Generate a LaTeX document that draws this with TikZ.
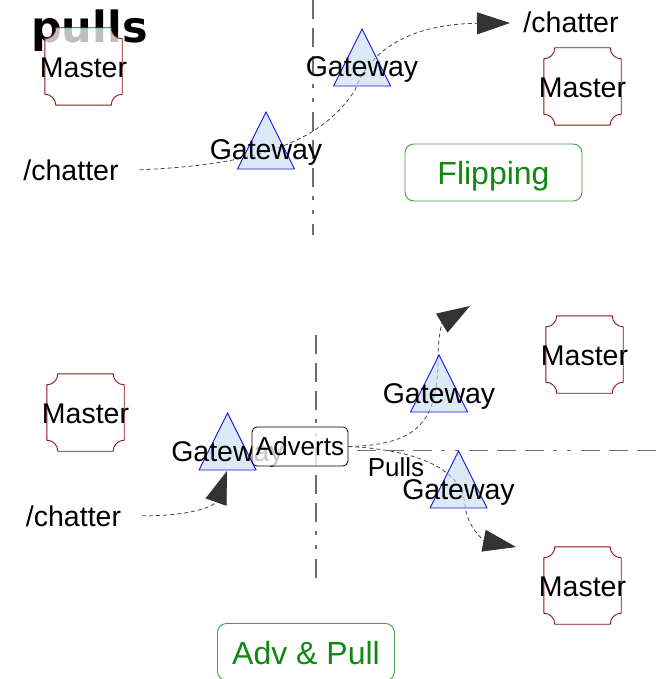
\documentclass[tikz,border=0pt]{standalone}
\usepackage{fontspec}
\setmainfont{Liberation Sans}
\newfontfamily\titlefont{DejaVu Sans}
\usetikzlibrary{arrows.meta,calc}

\definecolor{masterred}{RGB}{139,20,20}
\definecolor{gwblue}{RGB}{20,20,240}
\definecolor{gwfill}{RGB}{195,220,240}
\definecolor{flowgray}{RGB}{70,70,70}
\definecolor{tipgray}{RGB}{51,51,51}
\definecolor{axisgray}{RGB}{110,110,110}
\definecolor{modetext}{RGB}{17,136,17}
\definecolor{modeline}{RGB}{70,160,70}

\pgfdeclarelayer{curves}
\pgfsetlayers{curves,main}

\tikzset{
  txt/.style={inner sep=0pt, anchor=base, font=\fontsize{28.5}{30}\selectfont},
  smalltxt/.style={inner sep=0pt, anchor=base, font=\fontsize{26}{28}\selectfont},
  gwshape/.style={draw=gwblue, fill=gwfill, fill opacity=0.6, line width=0.9pt},
  masterbox/.style={draw=none, inner sep=0pt, minimum size=77pt},
  masterline/.style={draw=masterred, line width=0.9pt, fill=white, fill opacity=0.75},
  flow/.style={draw=flowgray, line width=0.8pt, dash pattern=on 4pt off 3pt,
    -{Triangle[length=33pt,width=22pt,color=tipgray]}},
  axis/.style={draw=axisgray, line width=1.3pt,
    dash pattern=on 19pt off 9pt on 19pt off 9pt on 19pt off 9pt on 4pt off 10pt on 4pt off 10pt},
  modebox/.style={draw=modeline, line width=0.9pt, rounded corners=9pt,
    minimum width=177pt, minimum height=57pt, inner sep=0pt,
    text height=24pt, text depth=0pt, text=modetext,
    font=\fontsize{32}{34}\selectfont},
  advbox/.style={draw=black, line width=0.8pt, rounded corners=5pt,
    fill=white, fill opacity=0.78, text opacity=1,
    minimum width=96pt, minimum height=39pt, inner sep=0pt,
    font=\fontsize{26}{28}\selectfont},
}

% master: name, centre x, top y
\newcommand\mastershape[3]{%
  \node[masterbox] (#1) at (#2,-#3-38.5) {};
  \path[masterline]
    ($(#1.north west)+(11pt,0)$) -- ($(#1.north east)+(-11pt,0)$)
    arc[start angle=180,end angle=270,radius=11pt]
    -- ($(#1.south east)+(0,11pt)$)
    arc[start angle=90,end angle=180,radius=11pt]
    -- ($(#1.south west)+(11pt,0)$)
    arc[start angle=0,end angle=90,radius=11pt]
    -- ($(#1.north west)+(0,-11pt)$)
    arc[start angle=-90,end angle=0,radius=11pt] -- cycle;
  \node[txt] (#1-label) at ($(#1.north)+(0,-50pt)$) {Master};}

% gateway: name, centre x, base y
\newcommand\gatewayshape[3]{%
  \path[gwshape] (#2-28.5,-#3) -- (#2,-#3+57) -- (#2+28.5,-#3) -- cycle;
  \node[txt] (#1) at (#2,-#3+9) {Gateway};}

\begin{document}
\begin{tikzpicture}[x=1pt,y=1pt]
\useasboundingbox (0,0) rectangle (664,-679);

% ---------- flipping ----------
\node[inner sep=0pt, anchor=base west, font=\titlefont\bfseries\fontsize{43}{45}\selectfont]
  (title) at (31,-43) {pulls};

\draw[axis] (313,0) -- (313,-235);

\mastershape{mA}{83.5}{28}
\mastershape{mB}{582.5}{48}

\gatewayshape{gA}{362}{86}
\gatewayshape{gB}{266}{169}

\node[txt] (chatA) at (71,-180) {/chatter};
\node[txt] (chatB) at (571,-33) {/chatter};
\coordinate (tipA) at (510,-23);

\node[modebox] (flip) at (493.5,-172.5) {Flipping};

% ---------- adverts and pulls ----------
\draw[axis] (316,-335) -- (316,-580);
\draw[axis] (357,-450.5) -- (664,-450.5);

\mastershape{mC}{85.5}{374}
\mastershape{mD}{584.5}{316}
\mastershape{mE}{582.5}{547}

\gatewayshape{gC}{227.5}{470}
\gatewayshape{gD}{439}{412}
\gatewayshape{gE}{458.5}{508}

\node[advbox] (adv) at (300,-446.5) {Adverts};
\node[smalltxt] (pulls) at (396,-476) {Pulls};

\node[txt] (chatC) at (73.5,-526) {/chatter};
\coordinate (tipC) at (227,-471);
\coordinate (tipD) at (470,-306);
\coordinate (tipE) at (516,-547);

\node[modebox] (advpull) at (306,-652) {Adv \& Pull};

% ---------- message paths ----------
\begin{pgfonlayer}{curves}
  \draw[flow] ($(chatA.east)+(21pt,0)$) .. controls (250,-165) and (320,-145) .. (355,-90)
    .. controls (370,-50) and (410,-24) .. (tipA);
  \draw[flow] ($(chatC.east)+(21pt,0)$) .. controls (195,-516) and (215,-505) .. (tipC);
  \draw[flow] (adv.east) .. controls (420,-445) and (437,-420) .. (438,-360)
    .. controls (438,-335) and (442,-323) .. (tipD);
  \draw[flow] (adv.east) .. controls (420,-450) and (462,-470) .. (465,-505)
    .. controls (467,-528) and (485,-541) .. (tipE);
\end{pgfonlayer}
\end{tikzpicture}
\end{document}
